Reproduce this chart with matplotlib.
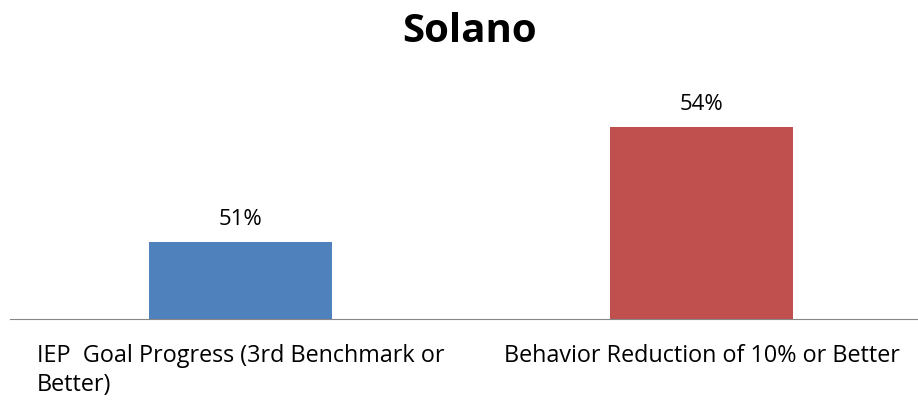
import matplotlib
matplotlib.use("Agg")
import matplotlib.pyplot as plt

categories = ["IEP  Goal Progress (3rd Benchmark or\nBetter)",
              "Behavior Reduction of 10% or Better"]
values = [51, 54]
colors = ["#4F81BD", "#C0504D"]

plt.rcParams["font.family"] = ["Open Sans", "DejaVu Sans"]

fig = plt.figure(figsize=(9.18, 4.0), dpi=100)
ax = fig.add_axes([10 / 918, 1 - 319 / 400, 922 / 918, (319 - 89) / 400])

x = range(len(values))
bars = ax.bar(x, values, width=0.397, color=colors)
ax.set_xlim(-0.5, 1.5)
ax.set_ylim(49, 55)

for b, v in zip(bars, values):
    ax.annotate(f"{v}%", (b.get_x() + b.get_width() / 2, v),
                xytext=(0, 9), textcoords="offset points",
                ha="center", va="bottom", fontsize=16)

ax.set_xticks(list(x))
ax.set_xticklabels(categories, fontsize=16.8, multialignment="left",
                   linespacing=1.3)
ax.tick_params(axis="x", length=0, pad=18)
ax.set_yticks([])
for side in ["left", "right", "top"]:
    ax.spines[side].set_visible(False)
ax.spines["bottom"].set_color("#868686")

fig.text(470 / 918, 1 - 32 / 400, "Solano", ha="center", va="center",
         fontsize=29, fontweight="bold")

fig.savefig("out.png", dpi=100)
